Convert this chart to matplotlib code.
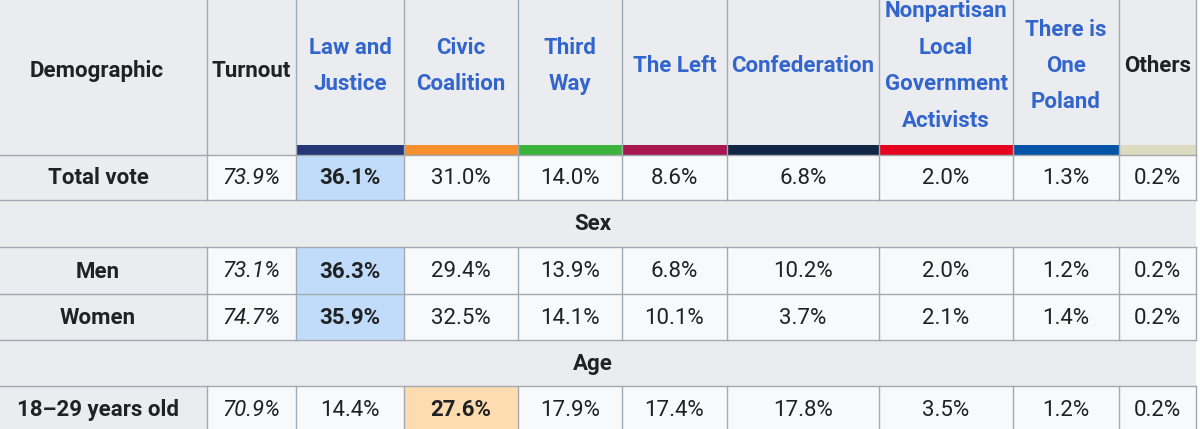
import matplotlib
matplotlib.use("Agg")
import matplotlib.pyplot as plt
from matplotlib.patches import Rectangle

plt.rcParams['font.family'] = ['Roboto', 'DejaVu Sans']

# header labels
parties = ["Law and\nJustice", "Civic\nCoalition", "Third\nWay", "The Left", "Confederation",
           "Nonpartisan\nLocal\nGovernment\nActivists", "There is\nOne\nPoland", "Others"]
party_colors = ["#263778", "#f68f2d", "#3cb43c", "#a8174f", "#122746", "#e6051e", "#0455a7", "#dcdbbf"]
party_link = [True, True, True, True, True, True, True, False]

# rows: (label, turnout, values, highlighted index) or section titles
rows = [
    ("Total vote", "73.9%", ["36.1%", "31.0%", "14.0%", "8.6%", "6.8%", "2.0%", "1.3%", "0.2%"], 0),
    ("Sex",),
    ("Men", "73.1%", ["36.3%", "29.4%", "13.9%", "6.8%", "10.2%", "2.0%", "1.2%", "0.2%"], 0),
    ("Women", "74.7%", ["35.9%", "32.5%", "14.1%", "10.1%", "3.7%", "2.1%", "1.4%", "0.2%"], 0),
    ("Age",),
    ("18\u201329 years old", "70.9%", ["14.4%", "27.6%", "17.9%", "17.4%", "17.8%", "3.5%", "1.2%", "0.2%"], 1),
]
highlight = {0: "#c1dcfb", 1: "#fddcb1"}

# layout in pixels
edges = [-10, 207, 296, 404, 518, 622, 727, 879, 1013, 1119, 1196]
row_edges = [155, 200, 247, 294, 340, 386, 432]
bar_top = 145

HEAD_BG = "#eaecf0"
CELL_BG = "#f8f9fa"
LINE = "#a2a9b1"
TXT = "#202122"
LINK = "#3366cc"
FS = 16

fig = plt.figure(figsize=(12, 4.29), dpi=100)
ax = fig.add_axes([0, 0, 1, 1])
ax.set_xlim(0, 1200)
ax.set_ylim(429, 0)
ax.axis("off")
fig.patch.set_facecolor("white")

# header background
ax.add_patch(Rectangle((edges[0], -20), edges[-1] - edges[0], row_edges[0] + 20, fc=HEAD_BG, ec="none"))
ax.text(97, 71, "Demographic", ha="center", va="center", fontsize=FS, fontweight="bold", color=TXT)
ax.text(251, 71, "Turnout", ha="center", va="center", fontsize=FS, fontweight="bold", color=TXT)
for i, name in enumerate(parties):
    x0, x1 = edges[i + 2], edges[i + 3]
    lines = name.split("\n")
    n = len(lines)
    for k, ln in enumerate(lines):
        y = 66 + (k - (n - 1) / 2) * 36.5
        ax.text((x0 + x1) / 2, y, ln, ha="center", va="center", fontsize=FS, fontweight="bold",
                color=LINK if party_link[i] else TXT)
    ax.add_patch(Rectangle((x0, bar_top), x1 - x0, row_edges[0] - bar_top, fc=party_colors[i], ec="none"))

# header vertical lines
for x in edges[1:]:
    ax.plot([x, x], [-20, row_edges[0]], color=LINE, lw=1)

# body
for r, row in enumerate(rows):
    y0, y1 = row_edges[r], row_edges[r + 1]
    yc = (y0 + y1) / 2 + 1
    if len(row) == 1:
        ax.add_patch(Rectangle((edges[0], y0), edges[-1] - edges[0], y1 - y0, fc=HEAD_BG, ec="none"))
        ax.text((edges[0] + edges[-1]) / 2, yc, row[0], ha="center", va="center",
                fontsize=FS, fontweight="bold", color=TXT)
        continue
    label, turnout, vals, hi = row
    ax.add_patch(Rectangle((edges[0], y0), edges[1] - edges[0], y1 - y0, fc=HEAD_BG, ec="none"))
    ax.text(98, yc, label, ha="center", va="center", fontsize=FS, fontweight="bold", color=TXT)
    ax.add_patch(Rectangle((edges[1], y0), edges[-1] - edges[1], y1 - y0, fc=CELL_BG, ec="none"))
    ax.text((edges[1] + edges[2]) / 2, yc, turnout, ha="center", va="center", fontsize=FS,
            style="italic", color=TXT)
    for i, v in enumerate(vals):
        x0, x1 = edges[i + 2], edges[i + 3]
        if i == hi:
            ax.add_patch(Rectangle((x0, y0), x1 - x0, y1 - y0, fc=highlight[hi], ec="none"))
        ax.text((x0 + x1) / 2, yc, v, ha="center", va="center", fontsize=FS,
                fontweight="bold" if i == hi else "normal", color=TXT)
    for x in edges[1:]:
        ax.plot([x, x], [y0, y1], color=LINE, lw=1)

# horizontal lines
for y in row_edges[:-1]:
    ax.plot([edges[0], edges[-1]], [y, y], color=LINE, lw=1)

fig.savefig("out.png", dpi=100, facecolor="white")
